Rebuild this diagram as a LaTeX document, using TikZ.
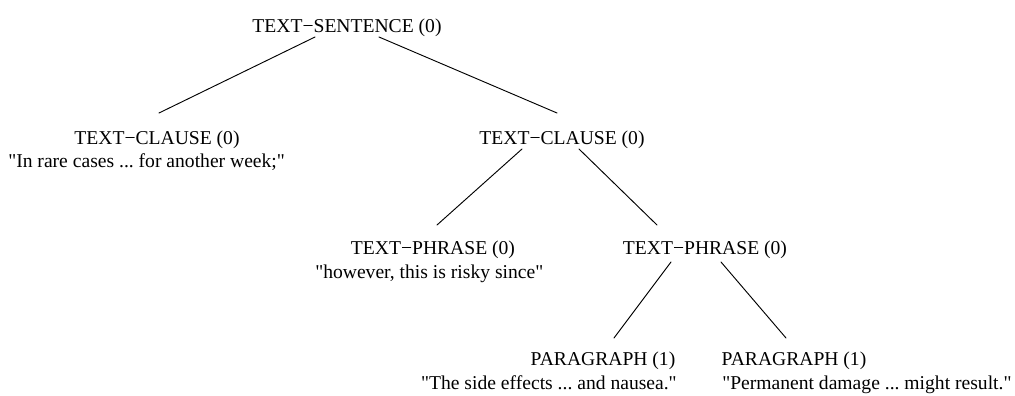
\documentclass[tikz,border=0pt]{standalone}
\usepackage{fontspec}
\setmainfont{Liberation Serif}[Ligatures=TeXOff]
\usetikzlibrary{calc}
\frenchspacing

\begin{document}
\begin{tikzpicture}[x=0.75pt,y=-0.75pt,line cap=round,
  lbl/.style={anchor=base,inner sep=0pt,font=\fontsize{14.7}{17}\selectfont},
  edge/.style={line width=0.7pt}]
\useasboundingbox (0,0) rectangle (1015,396);
% tree labels
\node[lbl] (sent) at (347,32) {TEXT−SENTENCE (0)};
\node[lbl] (clauseA) at (157,144) {TEXT−CLAUSE (0)};
\node[lbl] (clauseB) at (562,144) {TEXT−CLAUSE (0)};
\node[lbl] (phraseA) at (433,254) {TEXT−PHRASE (0)};
\node[lbl] (phraseB) at (705,254) {TEXT−PHRASE (0)};
\node[lbl] (paraA) at (603,365) {PARAGRAPH (1)};
\node[lbl] (paraB) at (794,365) {PARAGRAPH (1)};
% quoted text
\node[lbl,anchor=base west] (quoteA) at (8,167) {"In rare cases ... for another week;"};
\node[lbl,anchor=base west] (quoteB) at (315,278) {"however, this is risky since"};
\node[lbl,anchor=base east] (quoteC) at (677,389) {"The side effects ... and nausea."};
\node[lbl,anchor=base west] (quoteD) at (722,389) {"Permanent damage ... might result."};
% edges
\draw[edge] ($(sent.base)+(-32,5)$) -- ($(clauseA.base)+(2,-31)$);
\draw[edge] ($(sent.base)+(32,5)$) -- ($(clauseB.base)+(-5,-31)$);
\draw[edge] ($(clauseB.base)+(-40,5)$) -- ($(phraseA.base)+(4,-29)$);
\draw[edge] ($(clauseB.base)+(17,5)$) -- ($(phraseB.base)+(-48,-29)$);
\draw[edge] ($(phraseB.base)+(-34,8)$) -- ($(paraA.base)+(11,-27)$);
\draw[edge] ($(phraseB.base)+(16,8)$) -- ($(paraB.base)+(-8,-27)$);
\end{tikzpicture}
\end{document}
